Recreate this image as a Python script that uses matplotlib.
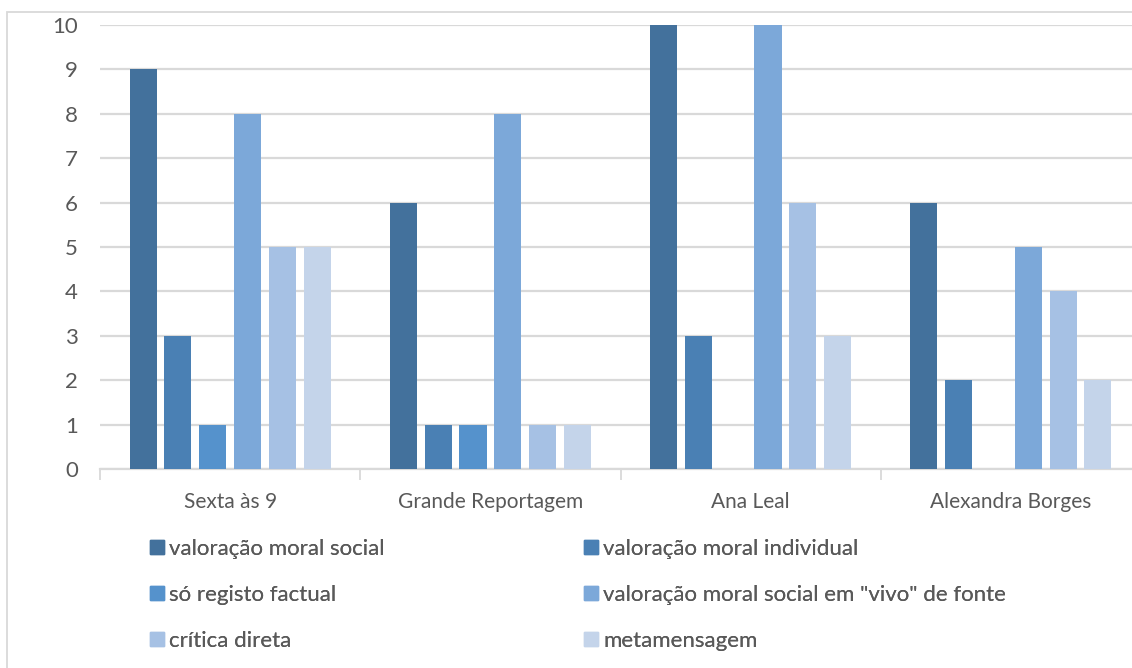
import matplotlib.pyplot as plt
from matplotlib.patches import Rectangle, Patch
import numpy as np

categories = ["Sexta às 9", "Grande Reportagem", "Ana Leal", "Alexandra Borges"]
series_names = [
    "valoração moral social",
    "valoração moral individual",
    "só registo factual",
    'valoração moral social em "vivo" de fonte',
    "crítica direta",
    "metamensagem",
]
values = [
    [9, 6, 10, 6],
    [3, 1, 3, 2],
    [1, 1, 0, 0],
    [8, 8, 10, 5],
    [5, 1, 6, 4],
    [5, 1, 3, 2],
]
colors = ["#43719C", "#4A80B4", "#5592CC", "#7CA8D9", "#A6C1E4", "#C4D4EA"]

plt.rcParams["font.family"] = ["Lato", "DejaVu Sans"]
txt = "#595959"
grid = "#D9D9D9"

W, H = 1132, 668
fig = plt.figure(figsize=(W / 100, H / 100), dpi=100)
fig.patches.append(Rectangle((7 / W, 0 - 0.01), 1.1, 1 - 12 / H + 0.01,
                             transform=fig.transFigure, fill=False,
                             edgecolor=grid, linewidth=1.3))

ax = fig.add_axes([100 / W, 1 - 469 / H, 1041 / W, 444 / H])
x = np.arange(len(categories))
pitch = 0.1337
bw = 0.104
for i, (name, vals) in enumerate(zip(series_names, values)):
    ax.bar(x + (i - 2.5) * pitch, vals, bw, color=colors[i], label=name, zorder=3)

ax.set_xlim(-0.5, len(categories) - 0.5)
ax.set_ylim(0, 10)
ax.set_yticks(range(0, 11))
ax.yaxis.grid(True, color=grid, linewidth=1.6, zorder=0)
ax.set_xticks(x)
ax.set_xticklabels(categories)
ax.set_xticks(np.arange(-0.5, len(categories) - 0.5), minor=True)
ax.tick_params(axis="x", which="major", length=0, pad=16.5, labelsize=15, labelcolor=txt)
ax.tick_params(axis="x", which="minor", length=8, width=1.3, color=grid)
ax.tick_params(axis="y", length=0, pad=16, labelsize=16, labelcolor=txt)
for s in ["top", "right", "left"]:
    ax.spines[s].set_visible(False)
ax.spines["bottom"].set_color(grid)
ax.spines["bottom"].set_linewidth(1.6)

handles = [Patch(color=c) for c in colors]
for col, x0 in enumerate([150, 584]):
    idx = [col, col + 2, col + 4]
    leg = fig.legend([handles[k] for k in idx], [series_names[k] for k in idx],
                     loc="upper left", bbox_to_anchor=(x0 / W, 1 - 539 / H),
                     frameon=False, fontsize=16, labelcolor=txt,
                     handlelength=0.62, handleheight=0.62, handletextpad=0.25,
                     labelspacing=1.16, borderpad=0, borderaxespad=0)
    fig.add_artist(leg)

fig.savefig("out.png", dpi=100)
